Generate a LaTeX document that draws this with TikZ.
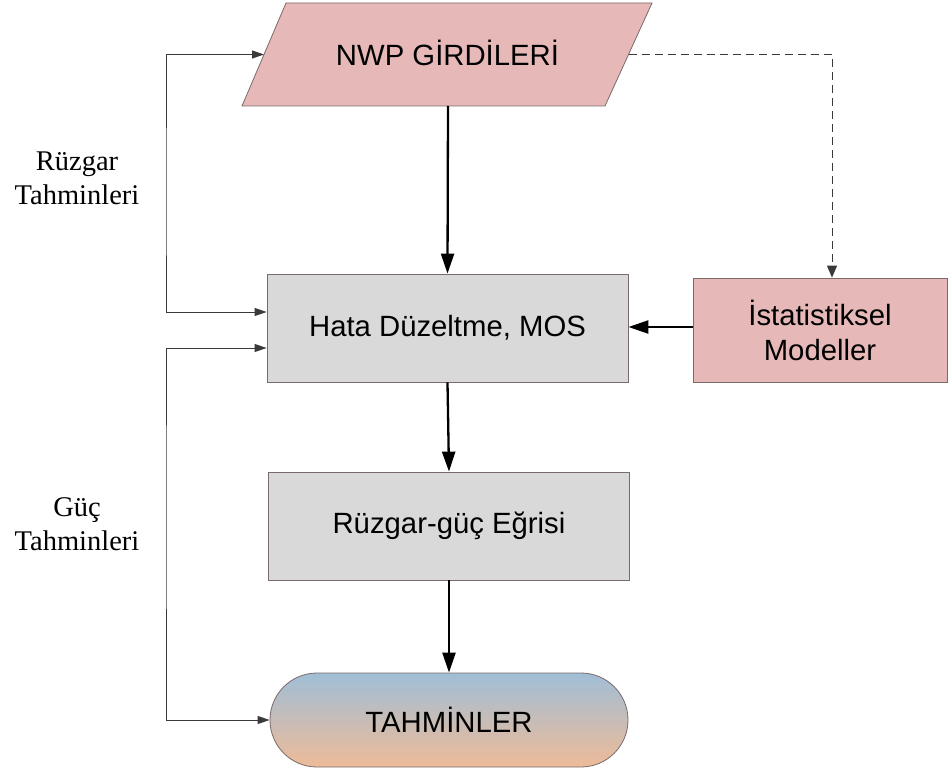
\documentclass[tikz,border=0pt]{standalone}
\usepackage{fontspec}
\setmainfont{Liberation Serif}
\newfontfamily\boxfont{Liberation Sans}
\usetikzlibrary{arrows.meta,calc}

\definecolor{pinkfill}{HTML}{E6B9B8}
\definecolor{greyfill}{HTML}{D9D9D9}
\definecolor{edgeline}{HTML}{7A6A6A}
\definecolor{loopline}{HTML}{3A3A3A}
\definecolor{topblue}{HTML}{A0BED6}
\definecolor{bottompeach}{HTML}{EEBB98}

\tikzset{
  boxtext/.style={font=\boxfont\fontsize{29.3}{35}\selectfont, align=center},
  procbox/.style={boxtext, draw=edgeline, line width=0.8pt, fill=greyfill,
    minimum width=361pt, minimum height=108pt, inner sep=0pt},
  modelbox/.style={boxtext, draw=edgeline, line width=0.8pt, fill=pinkfill,
    minimum width=254pt, minimum height=104pt, inner sep=0pt},
  endbox/.style={boxtext, draw=edgeline, line width=0.8pt, rounded corners=47pt,
    top color=topblue, bottom color=bottompeach,
    minimum width=358pt, minimum height=94pt, inner sep=0pt},
  sidelabel/.style={font=\fontsize{28.5}{34}\selectfont, align=center},
  mainarrow/.style={line width=2.3pt, -{Triangle[length=20pt,width=13pt]}},
  looparrow/.style={draw=loopline, line width=1pt,
    {Triangle[length=12pt,width=8pt]}-{Triangle[length=12pt,width=8pt]}},
  dasharrow/.style={draw=loopline, line width=1pt, dash pattern=on 8pt off 5pt,
    -{Triangle[length=12pt,width=10pt]}},
}

\begin{document}
\begin{tikzpicture}[x=1pt,y=-1pt]
  \useasboundingbox (0,0) rectangle (948,773);

  % input parallelogram
  \coordinate (nwpTL) at (286,3);
  \coordinate (nwpTR) at (652,3);
  \coordinate (nwpBR) at (605,106);
  \coordinate (nwpBL) at (242,106);
  \fill[pinkfill] (nwpTL) -- (nwpTR) -- (nwpBR) -- (nwpBL) -- cycle;
  \draw[edgeline, line width=0.8pt] (nwpTL) -- (nwpTR) -- (nwpBR) -- (nwpBL) -- cycle;
  \node[boxtext] (nwp) at (447.5,53) {NWP GİRDİLERİ};
  \coordinate (nwpW) at ($(nwpTL)!0.5!(nwpBL)$);
  \coordinate (nwpE) at ($(nwpTR)!0.5!(nwpBR)$);
  \coordinate (nwpS) at (448,106);

  % process boxes
  \node[procbox] (hata) at (447.5,328) {Hata Düzeltme, MOS};
  \node[modelbox] (stat) at (820,330) {İstatistiksel\\Modeller};
  \node[procbox] (curve) at (449,526) {Rüzgar-güç Eğrisi};
  \node[endbox] (out) at (449,720) {TAHMİNLER};

  % side labels
  \node[sidelabel] (windlbl) at (77,178) {Rüzgar\\Tahminleri};
  \node[sidelabel] (powerlbl) at (77,524) {Güç\\Tahminleri};

  % corners of the feedback loops
  \coordinate (loopA) at (166,0);
  \coordinate (loopB) at (166,0);

  % main flow
  \draw[mainarrow] (nwpS) -- (hata.north);
  \draw[mainarrow] (hata.south) -- (curve.north);
  \draw[mainarrow] (curve.south) -- (out.north);
  \draw[mainarrow] (stat.west |- 0,327) -- (hata.east |- 0,327);

  % dashed link to the statistical models
  \draw[dasharrow] (nwpE) -| ([xshift=12pt]stat.north);

  % feedback loops on the left
  \draw[looparrow] (nwpW) -| (loopA |- 0,200) |- ([yshift=16pt]hata.west);
  \draw[looparrow] ([yshift=-20pt]hata.west) -| (loopB |- 0,500) |- (out.west);
\end{tikzpicture}
\end{document}
